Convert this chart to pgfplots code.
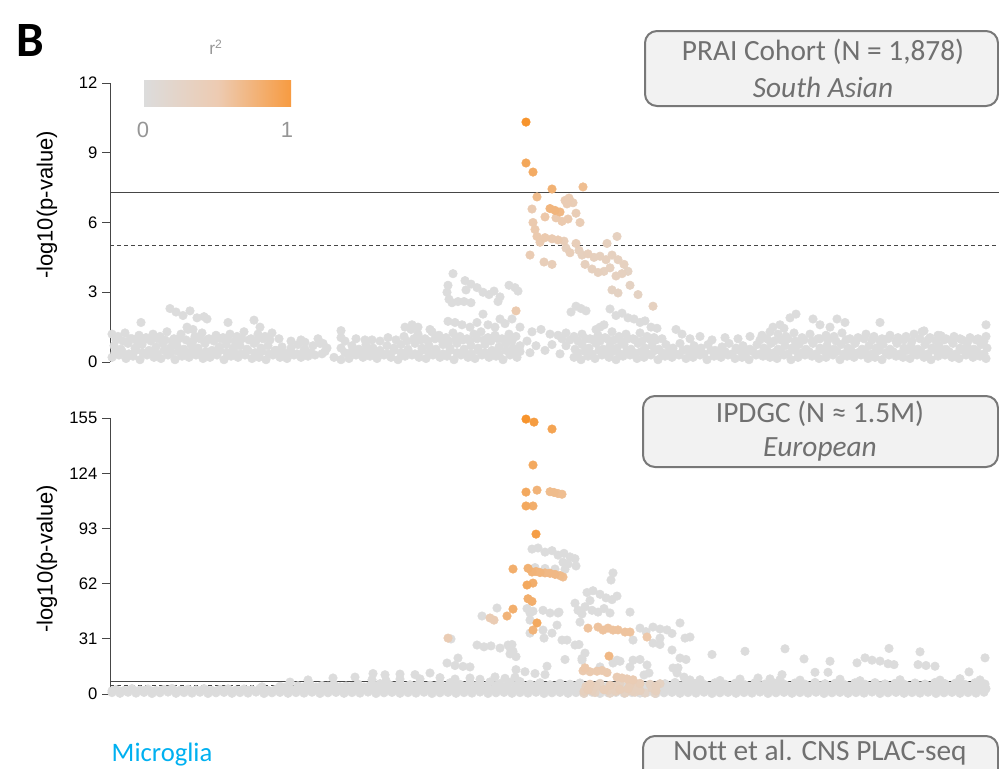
\documentclass[border=0pt]{standalone}
\usepackage{fontspec}
\setmainfont{Liberation Sans}
\newfontfamily\calibri[Ligatures=NoCommon]{Carlito}
\usepackage{pgfplots}
\pgfplotsset{compat=1.18}
\definecolor{ptgray}{RGB}{220,220,220}
\definecolor{barmid}{RGB}{237,203,178}
\definecolor{barend}{RGB}{247,155,65}
\definecolor{boxfill}{RGB}{242,242,242}
\definecolor{boxline}{RGB}{120,120,120}
\definecolor{txtgray}{RGB}{112,112,112}
\definecolor{lblgray}{RGB}{150,150,150}
\definecolor{axgray}{RGB}{70,70,70}
\definecolor{cyanb}{RGB}{0,176,240}
\pgfplotsset{
  myax/.style={
    anchor=south west, scale only axis, width=660pt,
    xmin=110, xmax=990, clip=false,
    axis x line=none, axis y line=left,
    axis line style={-, axgray, line width=0.75pt},
    every outer y axis line/.append style={-},
    tick style={axgray, line width=0.75pt},
    tick align=outside, major tick length=6pt,
    ytick pos=left,
    tick label style={font=\fontsize{12.5}{14}\selectfont, text=black},
    /pgf/number format/assume math mode=true,
    ylabel={-log10(p-value)},
    ylabel style={anchor=center, font=\fontsize{16.5}{19}\selectfont},
    colormap={r2}{rgb255=(220,220,220) rgb255=(237,200,170) rgb255=(247,148,45)},
    point meta min=0, point meta max=1,
  },
  gpts/.style={only marks, mark=*, mark size=3.2pt, color=ptgray},
  cpts/.style={scatter, only marks, mark=*, mark size=3.2pt, scatter src=explicit,
    scatter/use mapped color={draw=mapped color, fill=mapped color}},
}
\begin{document}
\begin{tikzpicture}
\path[use as bounding box] (0pt,0pt) rectangle (749.25pt,-576pt);

% ---------------- top panel ----------------
\begin{axis}[myax, at={(82.5pt,-271.5pt)}, height=209.25pt, ymin=0, ymax=12, ytick={0,3,6,9,12},
  ylabel style={at={(axis description cs:-0.0716,0.563)}}]
\addplot[axgray, line width=0.75pt] coordinates {(110,7.3) (999,7.3)};
\addplot[axgray, line width=0.75pt, dash pattern=on 3pt off 2.25pt] coordinates {(110,5) (999,5)};
\addplot[gpts] coordinates {
(112,0.2)(119,0.3)(126,0.15)(133,0.25)(140,0.1)(147,0.3)(154,0.2)(161,0.15)(168,0.3)(175,0.1)(182,0.25)(189,0.2)(196,0.3)(203,0.15)(210,0.2)(217,0.3)(224,0.1)(231,0.25)(238,0.2)(245,0.3)(252,0.15)(259,0.2)(266,0.1)(273,0.3)(280,0.2)(287,0.15)(294,0.3)(301,0.2)(308,0.25)(315,0.3)(322,0.35)(334,0.2)(341,0.1)(349,0.15)(356,0.3)(363,0.2)(370,0.25)(377,0.15)(384,0.3)(391,0.2)(398,0.1)(405,0.25)(412,0.3)(419,0.2)(426,0.15)(433,0.3)(440,0.2)(447,0.25)(454,0.1)(461,0.3)(468,0.2)(475,0.15)(482,0.3)(489,0.2)(496,0.25)(503,0.1)(510,0.3)(517,0.2)(530,0.4)(545,0.5)(560,0.35)(574,0.2)(581,0.1)(588,0.25)(595,0.15)(602,0.3)(609,0.2)(616,0.1)(623,0.25)(630,0.3)(637,0.15)(644,0.2)(651,0.3)(658,0.1)(665,0.25)(672,0.2)(679,0.3)(686,0.15)(693,0.2)(700,0.3)(707,0.1)(714,0.25)(721,0.2)(728,0.3)(735,0.15)(742,0.2)(749,0.1)(756,0.3)(763,0.25)(770,0.2)(777,0.15)(784,0.3)(791,0.1)(798,0.2)(805,0.3)(812,0.25)(819,0.15)(826,0.2)(833,0.3)(840,0.1)(847,0.25)(854,0.2)(861,0.3)(868,0.15)(875,0.2)(882,0.1)(889,0.3)(896,0.25)(903,0.2)(910,0.15)(917,0.3)(924,0.2)(931,0.1)(938,0.25)(945,0.3)(952,0.2)(959,0.15)(966,0.3)(973,0.2)(980,0.25)(986,0.15)
(115,0.4)(122,0.45)(129,0.35)(136,0.5)(143,0.4)(150,0.45)(157,0.35)(164,0.5)(171,0.4)(178,0.45)(185,0.35)(192,0.5)(199,0.4)(206,0.45)(213,0.35)(220,0.5)(227,0.4)(234,0.45)(241,0.35)(248,0.5)(255,0.4)(262,0.45)(269,0.35)(276,0.5)(283,0.4)(290,0.45)(297,0.35)(304,0.5)(311,0.4)(325,0.45)(345,0.4)(352,0.45)(359,0.35)(366,0.5)(373,0.4)(380,0.45)(387,0.35)(394,0.5)(401,0.4)(408,0.45)(415,0.35)(422,0.5)(429,0.4)(436,0.45)(443,0.35)(450,0.5)(457,0.4)(464,0.45)(471,0.35)(478,0.5)(485,0.4)(492,0.45)(499,0.35)(506,0.5)(513,0.4)(520,0.45)(578,0.4)(585,0.45)(592,0.35)(599,0.5)(606,0.4)(613,0.45)(620,0.35)(627,0.5)(634,0.4)(641,0.45)(648,0.35)(655,0.5)(662,0.4)(669,0.45)(676,0.35)(683,0.5)(690,0.4)(697,0.45)(704,0.35)(711,0.5)(718,0.4)(725,0.45)(732,0.35)(739,0.5)(746,0.4)(753,0.45)(760,0.35)(767,0.5)(774,0.4)(781,0.45)(788,0.35)(795,0.5)(802,0.4)(809,0.45)(816,0.35)(823,0.5)(830,0.4)(837,0.45)(844,0.35)(851,0.5)(858,0.4)(865,0.45)(872,0.35)(879,0.5)(886,0.4)(893,0.45)(900,0.35)(907,0.5)(914,0.4)(921,0.45)(928,0.35)(935,0.5)(942,0.4)(949,0.45)(956,0.35)(963,0.5)(970,0.4)(977,0.45)(984,0.35)
(114,0.7)(121,0.55)(128,0.8)(135,0.6)(142,0.75)(149,0.5)(156,0.65)(163,0.8)(170,0.6)(177,0.7)(184,0.55)(191,0.75)(198,0.6)(205,0.8)(212,0.5)(219,0.65)(226,0.75)(233,0.6)(240,0.7)(247,0.55)(254,0.8)(261,0.6)(268,0.7)(275,0.5)(282,0.65)(291,0.6)(298,0.75)(305,0.55)(313,0.7)(320,0.8)(327,0.6)(341,0.6)(352,0.7)(359,0.55)(366,0.75)(373,0.6)(380,0.5)(387,0.7)(394,0.6)(401,0.75)(408,0.55)(415,0.8)(422,0.6)(429,0.7)(436,0.55)(443,0.75)(450,0.6)(457,0.8)(464,0.55)(471,0.7)(478,0.6)(485,0.75)(492,0.5)(499,0.65)(506,0.8)(513,0.6)(520,0.7)(527,0.9)(536,0.7)(552,0.75)(566,0.7)(575,0.55)(582,0.75)(589,0.6)(596,0.8)(603,0.55)(610,0.7)(617,0.6)(624,0.75)(631,0.55)(638,0.8)(645,0.6)(652,0.7)(659,0.55)(666,0.75)(673,0.6)(680,0.8)(687,0.55)(694,0.7)(701,0.6)(708,0.75)(715,0.5)(722,0.65)(729,0.8)(736,0.6)(743,0.7)(750,0.55)(757,0.75)(764,0.6)(771,0.8)(778,0.55)(785,0.7)(792,0.6)(799,0.75)(806,0.55)(813,0.8)(820,0.6)(827,0.7)(834,0.55)(841,0.75)(848,0.6)(855,0.8)(862,0.55)(869,0.7)(876,0.6)(883,0.75)(890,0.55)(897,0.8)(904,0.6)(911,0.7)(918,0.55)(925,0.75)(932,0.6)(939,0.7)(946,0.55)(953,0.8)(960,0.6)(967,0.7)(974,0.55)(981,0.75)(987,0.6)
(116,0.95)(123,0.9)(130,1.0)(137,0.9)(144,0.95)(151,0.9)(158,1.0)(165,0.95)(172,0.9)(179,1.0)(186,0.95)(193,0.9)(200,1.0)(207,0.95)(214,0.9)(221,1.0)(228,0.95)(235,0.9)(242,1.0)(249,0.95)(256,0.9)(263,1.0)(270,0.95)(345,0.9)(365,0.95)(380,0.9)(396,0.95)(407,0.9)(414,1.0)(421,0.95)(428,0.9)(435,1.0)(442,0.95)(449,0.9)(456,1.0)(463,0.95)(470,0.9)(477,1.0)(484,0.95)(491,0.9)(498,1.0)(505,0.95)(512,0.9)(562,1.0)(570,0.95)(578,0.9)(586,1.0)(593,0.95)(600,0.9)(607,1.0)(614,0.95)(621,0.9)(628,1.0)(635,0.95)(642,0.9)(649,1.0)(656,0.95)(760,0.95)(767,1.0)(774,0.9)(781,0.95)(788,1.0)(795,0.9)(804,0.95)(812,0.9)(820,1.0)(828,0.95)(836,0.9)(846,0.95)(856,0.9)(864,1.0)(872,0.95)(880,0.9)(888,1.0)(896,0.9)(904,0.95)(912,0.9)(920,1.0)(928,0.95)(936,0.9)(944,0.95)(952,0.9)(960,1.0)(968,0.9)(976,0.95)(984,0.9)
(112,1.2)(118,1.1)(125,1.25)(132,1.0)(139,1.15)(146,1.05)(153,1.2)(160,1.1)(167,1.3)(174,1.0)(181,1.2)(188,1.4)(195,1.1)(202,1.25)(209,1.0)(216,1.15)(223,1.05)(230,1.2)(237,1.1)(244,1.3)(251,1.0)(258,1.2)(265,1.1)(272,1.25)(279,1.0)(301,0.95)(318,1.0)(341,1.05)(341,1.35)(356,1.0)(372,0.95)(388,1.05)(404,1.1)(411,1.4)(418,1.2)(425,1.0)(432,1.3)(439,1.15)(446,1.05)(453,1.25)(460,1.1)(467,1.0)(474,1.2)(481,1.3)(488,1.05)(495,1.15)(502,1.0)(509,1.2)(516,1.1)(532,1.3)(541,1.4)(550,1.2)(558,1.15)(566,1.25)(574,1.1)(582,1.2)(590,1.0)(598,1.15)(605,1.05)(612,1.3)(619,1.1)(626,1.2)(633,1.0)(640,1.25)(647,1.1)(654,1.05)(662,1.0)(676,1.4)(682,1.2)(690,1.0)(700,1.1)(712,0.95)(725,1.05)(738,1.0)(750,1.1)(762,1.15)(770,1.3)(778,1.2)(786,1.1)(794,1.25)(802,1.05)(810,1.2)(818,1.0)(826,1.15)(834,1.1)(842,1.25)(850,1.0)(858,1.05)(866,1.2)(874,1.1)(882,1.0)(890,1.15)(898,1.05)(906,1.1)(914,1.2)(922,1.3)(930,1.05)(938,1.15)(946,1.0)(954,1.1)(962,0.95)(970,1.05)(978,1.0)(986,1.1)
(141,1.7)(170,2.3)(176,2.15)(183,2.0)(190,2.2)(197,1.9)(204,1.95)(207,1.85)(187,1.5)(193,1.4)(228,1.7)(254,1.8)(260,1.5)(291,0.9)(305,0.85)(323,0.8)(405,1.5)(412,1.6)(418,1.5)(430,1.4)
(453,3.8)(448,3.3)(447,3.0)(449,2.7)(452,2.55)(465,3.5)(471,3.35)(466,3.1)(477,3.2)(483,3.0)(489,2.9)(494,3.05)(500,2.8)(498,2.6)(509,3.3)(515,3.2)(518,3.05)(458,2.6)(464,2.6)(471,2.55)(483,2.06)(500,1.85)(512,1.85)(448,1.75)(455,1.7)(462,1.6)(470,1.5)(477,1.7)(488,1.6)(495,1.5)(505,1.65)(520,1.5)
(576,2.4)(586,2.2)(571,2.15)(581,2.3)(604,1.6)(610,2.28)(616,2.0)(622,2.1)(628,1.9)(634,1.85)(640,1.7)(645,1.77)(651,1.5)(657,1.45)(600,1.5)(596,1.4)
(796,2.06)(790,1.9)(780,1.6)(773,1.5)(784,1.45)(813,1.85)(820,1.6)(837,1.85)(845,1.7)(830,1.5)(880,1.7)(924,1.34)(941,1.13)(986,1.6)
};
\addplot[cpts] coordinates {
(612,3.1)[0.25](618,2.97)[0.25](630,3.3)[0.25](638,2.9)[0.25](628,3.9)[0.25]
(653,2.4)[0.28](612,4.6)[0.28](618,4.4)[0.28](624,4.2)[0.28](604,3.9)[0.28](610,4.05)[0.28](616,3.7)[0.28](622,3.8)[0.28](617,5.4)[0.28]
(566,4.9)[0.3](579,4.8)[0.3](582,4.6)[0.3](594,4.5)[0.3](600,4.55)[0.3](606,4.4)[0.3](585,4.2)[0.3](592,4.0)[0.3](598,3.85)[0.3](607,5.1)[0.3]
(588,4.65)[0.32]
(564,5.2)[0.35](570,4.7)[0.35](576,5.1)[0.35](544,4.3)[0.35](552,4.2)[0.35]
(573,6.85)[0.38](576,6.4)[0.38](580,6.0)[0.38]
(565,6.95)[0.4](569,7.05)[0.4](567,6.8)[0.4](530,4.6)[0.4]
(532,6.58)[0.42](540,5.15)[0.42](552,5.3)[0.42](558,5.25)[0.42]
(556,6.2)[0.45](562,6.05)[0.45](568,6.15)[0.45](533,6.0)[0.45](535,5.7)[0.45](537,5.4)[0.45](545,5.35)[0.45](516,2.2)[0.45]
(545,6.24)[0.5](583,7.53)[0.6](537,7.1)[0.62](560,6.45)[0.65](550,6.6)[0.68](555,6.52)[0.68]
(552,7.44)[0.72](533,8.17)[0.78](526,8.56)[0.82](526,10.32)[1.0]
};
\end{axis}

% ---------------- bottom panel ----------------
\begin{axis}[myax, at={(82.5pt,-520.5pt)}, height=207pt, ymin=0, ymax=155, ytick={0,31,62,93,124,155},
  ylabel style={at={(axis description cs:-0.0716,0.49)}}]
\addplot[axgray, line width=0.75pt] coordinates {(110,7.3) (987,7.3)};
\addplot[axgray, line width=0.75pt, dash pattern=on 3pt off 2.25pt] coordinates {(110,5) (987,5)};
\addplot[gpts] coordinates {
(112,0.8)(120,0.4)(128,1.0)(136,0.5)(144,0.9)(152,0.3)(160,0.7)(168,1.1)(176,0.4)(184,0.8)(192,0.5)(200,1.0)(208,0.3)(216,0.7)(224,0.9)(232,0.4)(240,0.8)(248,0.5)(256,1.1)(264,0.3)(272,0.7)(280,0.9)(288,0.4)(296,0.8)(304,0.5)(312,1.0)(320,0.3)(328,0.7)(336,0.9)(344,0.4)(352,0.8)(360,0.5)(368,1.1)(376,0.3)(384,0.7)(392,0.9)(400,0.4)(408,0.8)(416,0.5)(424,1.0)(432,0.3)(440,0.7)(448,0.9)(456,0.4)(464,0.8)(472,0.5)(480,1.1)(488,0.3)(496,0.7)(504,0.9)(512,0.4)(520,0.8)(528,0.5)(536,1.0)(544,0.3)(552,0.7)(560,0.9)(568,0.4)(576,0.8)(584,0.5)(592,1.0)(600,0.3)(608,0.7)(616,0.9)(624,0.4)(632,0.8)(640,0.5)(648,1.1)(656,0.3)(664,0.7)(672,0.9)(680,0.4)(688,0.8)(696,0.5)(704,1.0)(712,0.3)(720,0.7)(728,0.9)(736,0.4)(744,0.8)(752,0.5)(760,1.1)(768,0.3)(776,0.7)(784,0.9)(792,0.4)(800,0.8)(808,0.5)(816,1.0)(824,0.3)(832,0.7)(840,0.9)(848,0.4)(856,0.8)(864,0.5)(872,1.1)(880,0.3)(888,0.7)(896,0.9)(904,0.4)(912,0.8)(920,0.5)(928,1.0)(936,0.3)(944,0.7)(952,0.9)(960,0.4)(968,0.8)(976,0.5)(984,1.0)
(112,1.8)(120,1.5)(128,2.0)(136,1.6)(144,1.9)(152,1.5)(160,1.8)(168,2.0)(176,1.6)(184,1.9)(192,1.5)(200,1.8)(208,2.0)(216,1.6)(224,1.9)(232,1.5)(240,1.8)(248,2.0)(256,1.6)(264,1.9)(272,1.5)(280,1.8)(288,2.0)(296,1.6)(304,1.9)(312,1.5)(320,1.8)(328,2.0)(336,1.6)(344,1.9)(352,1.5)(360,1.8)(368,2.0)(376,1.6)(384,1.9)(392,1.5)(400,1.8)(408,2.0)(416,1.6)(424,1.9)(432,1.5)(440,1.8)(448,2.0)(456,1.6)(464,1.9)(472,1.5)(480,1.8)(488,2.0)(496,1.6)(504,1.9)(512,1.5)(520,1.8)(528,2.0)(536,1.6)(544,1.9)(552,1.5)(560,1.8)(568,2.0)(576,1.6)(600,1.6)(624,1.8)(648,1.5)(664,1.8)(672,2.0)(680,1.6)(688,1.9)(696,1.5)(704,1.8)(712,2.0)(720,1.6)(728,1.9)(736,1.5)(744,1.8)(752,2.0)(760,1.6)(768,1.9)(776,1.5)(784,1.8)(792,2.0)(800,1.6)(808,1.9)(816,1.5)(824,1.8)(832,2.0)(840,1.6)(848,1.9)(856,1.5)(864,1.8)(872,2.0)(880,1.6)(888,1.9)(896,1.5)(904,1.8)(912,2.0)(920,1.6)(928,1.9)(936,1.5)(944,1.8)(952,2.0)(960,1.6)(968,1.9)(976,1.5)(984,1.8)
(116,2.5)(124,2.0)(132,3.0)(140,2.2)(148,2.8)(156,2.0)(164,2.6)(172,3.1)(180,2.1)(188,2.7)(196,2.3)(204,3.0)(212,2.0)(220,2.6)(228,2.9)(236,2.2)(244,2.8)(252,2.4)(260,3.2)(268,2.1)(276,2.7)(284,3.0)(292,2.4)(300,3.0)(308,2.5)(316,3.3)(324,2.2)(332,2.9)(340,3.2)(348,2.5)(356,3.0)(364,2.6)(372,3.4)(380,2.3)(388,2.9)(396,3.2)(404,2.5)(412,3.0)(420,2.6)(428,3.3)(436,2.3)(444,2.9)(452,3.2)(460,2.5)(468,3.0)(476,2.6)(484,3.4)(492,2.3)(500,2.9)(508,3.2)(516,2.5)(524,3.0)(532,2.6)(540,3.3)(548,2.3)(556,2.9)(564,3.2)(572,2.5)(580,3.0)(612,3.2)(644,2.9)(660,2.6)(668,3.3)(676,2.3)(684,2.9)(692,3.2)(700,2.5)(708,3.0)(716,2.6)(724,3.3)(732,2.3)(740,2.9)(748,3.2)(756,2.5)(764,3.0)(772,2.6)(780,3.4)(788,2.3)(796,2.9)(804,3.2)(812,2.5)(820,3.0)(828,2.6)(836,3.3)(844,2.3)(852,2.9)(860,3.2)(868,2.5)(876,3.0)(884,2.6)(892,3.3)(900,2.3)(908,2.9)(916,3.2)(924,2.5)(932,3.0)(940,2.6)(948,3.3)(956,2.3)(964,2.9)(972,3.2)(980,2.5)(986,3.0)
(285,3.8)(305,4.2)(316,3.9)(328,4.4)(340,4.0)(352,4.3)(364,3.9)(376,4.5)(386,4.1)(396,4.4)(406,4.0)(416,4.6)(426,4.2)(436,4.5)(446,4.1)(456,4.7)(466,4.3)(476,4.6)(486,4.2)(496,4.8)(506,4.3)(516,4.6)(526,4.2)(536,4.7)(546,4.3)(556,4.5)(566,4.1)(576,4.6)(606,4.0)(626,4.1)(646,4.2)(670,4.2)(680,4.5)(690,4.1)(700,4.6)(710,4.2)(720,4.4)(730,4.0)(740,4.5)(750,4.1)(760,4.6)(770,4.2)(780,4.5)(790,4.0)(800,4.4)(810,4.2)(820,4.6)(830,4.1)(840,4.5)(850,4.2)(860,4.4)(870,4.0)(880,4.6)(890,4.2)(900,4.5)(910,4.1)(920,4.4)(930,4.2)(940,4.6)(950,4.1)(960,4.5)(970,4.2)(980,4.4)
(262,4.0)(280,4.3)(298,4.6)(310,5.5)(322,4.8)(334,5.2)(346,4.5)(358,5.6)(370,4.7)(380,5.8)(390,5.0)(400,6.0)(410,5.2)(420,6.2)(430,5.0)(440,5.8)(450,6.3)(460,5.4)(470,6.5)(480,5.6)(490,6.8)(500,5.8)(510,6.5)(520,7.0)(530,5.5)(540,6.3)(550,5.2)(560,6.0)(570,5.5)(580,6.2)(665,5.8)(675,6.5)(685,5.4)(695,6.0)(705,5.2)(715,6.3)(725,5.5)(735,6.0)(745,5.2)(755,6.4)(765,5.6)(775,6.0)(785,5.3)(795,6.2)(805,5.5)(815,6.5)(825,5.8)(835,6.0)(845,5.2)(855,6.3)(865,5.5)(875,6.4)(885,5.7)(895,6.0)(905,5.3)(915,6.2)(925,5.6)(935,6.5)(945,5.8)(955,6.0)(965,5.4)(975,6.3)(985,5.6)
(290,6.7)(308,7.9)(333,9)(355,9.5)(372,8)(386,7.5)(400,8.4)(420,8.5)(440,9.2)(455,8.4)(470,9.0)(480,8.3)(495,9.6)(505,8.8)(515,9.4)(700,8.0)(720,7.6)(740,8.4)(800,7.8)(840,8.3)(860,7.5)(900,8.0)(940,7.8)(960,8.6)(980,7.9)
(373,11.5)(385,10.8)(400,11.2)(415,10.9)(430,11.8)(447,17.4)(455,16)(463,15.5)(470,15.2)(458,20.2)(477,27.5)(484,26.5)(491,27)(500,25.8)(451,30.9)(512,27.8)(513,24)(516,21)(510,26)(510,22.5)(516,13.7)(525,12.5)(535,11.5)(545,10.9)(547,15.6)(565,19.4)(579,27.8)(585,23)(582,20)(620,18.4)(640,19.4)(649,11.8)(660,27.8)(678,14.7)(686,19.4)(712,22.2)(745,24)(785,25.4)(804,19.7)(830,18.4)(857,17.5)(865,20.3)(872,19)(880,18.5)(888,17)(894,16.5)(889,25.6)(920,23.7)(918,16.5)(926,16)(935,15.6)(969,12.4)(985,20.3)(782,10.9)(758,9)(770,8.5)(780,8.1)(815,12.2)(828,12.2)
(532,81.4)(538,82)(545,79.7)(552,80.5)(558,78)(564,79)(570,77)(575,76)(563,74)(576,71.9)(568,73)(535,71)(545,70.5)(555,70.2)(565,70)
(613,68)(611,64)(587,57)(593,58)(600,56)(606,54)(612,53)(617,55)(590,52.5)(575,51)(578,47)(582,45)(585,49)(592,47)(598,46)(604,48)(610,45.5)(630,46)(580,40.4)(557,38.7)(559,46)(543,47)(550,45.5)(558,45.5)(527,48)(530,45.5)(533,46.5)(530,41.5)(530,34.2)(543,35.9)(552,34.2)(544,31.4)(562,30.3)(567,30.3)(575,27.5)(582,19)(617,19)(633,19)(647,16.3)(653,28.6)(672,24.7)(680,20.2)(673,14.6)(677,11.8)(684,9.5)(690,7.9)(644,10.7)(630,15.2)(613,17.4)(600,15.2)(640,37)(653,37.6)(667,36)(680,39.9)(685,31.4)(690,32)(660,31.4)(633,30.3)(672,34)(660,36.5)(646,35)(482,43.8)(497,48.3)(508,27.5)(512,24)
};
\addplot[cpts] coordinates {
(584,0.3)[0.2](610,0.4)[0.2](645,0.5)[0.2](655,0.3)[0.2]
(595,0.8)[0.25](625,0.5)[0.25](635,1.0)[0.25](596,3.0)[0.25](636,2.2)[0.25](652,3.2)[0.25](600,6.0)[0.25](620,6.2)[0.25](650,5.5)[0.25](660,5.8)[0.25]
(584,1.5)[0.3](592,1.8)[0.3](608,2.0)[0.3](616,1.5)[0.3](632,1.6)[0.3](640,1.9)[0.3](656,1.8)[0.3](586,4.2)[0.3](596,4.5)[0.3](616,4.4)[0.3](636,4.6)[0.3](656,4.5)[0.3]
(588,2.5)[0.35](604,2.4)[0.35](620,2.6)[0.35](628,3.0)[0.35](590,5.5)[0.35](610,5.0)[0.35](630,5.4)[0.35](640,6.0)[0.35]
(490,42.7)[0.4](494,41.5)[0.4](448,31.4)[0.4](617,9.5)[0.4](622,9.0)[0.4](627,8.5)[0.4](633,8.0)[0.4]
(583,13)[0.45](590,12.5)[0.45](597,12.8)[0.45](602,13.2)[0.45](607,12.0)[0.45]
(585,14.7)[0.5](647,32)[0.5]
(588,37)[0.55](598,37.6)[0.55](603,35.9)[0.55](608,37)[0.55](613,35.9)[0.55](618,36)[0.55](625,34.8)[0.55](630,34.8)[0.55]
(558,112.6)[0.6](562,112.2)[0.6](563,65.7)[0.6](550,113.6)[0.62](554,113.2)[0.62](560,66.5)[0.62]
(609,21.3)[0.65](545,68.0)[0.65](550,67.8)[0.65](555,67.2)[0.65](536,68.8)[0.68](540,68.2)[0.68]
(537,114.5)[0.7](532,68.5)[0.7](507,43.8)[0.7](533,35.9)[0.7](528,70.6)[0.72]
(533,105.6)[0.75](513,70.2)[0.75](533,62.3)[0.75](528,53.5)[0.75](532,52)[0.75](513,47.7)[0.75]
(533,128.6)[0.8](526,113.4)[0.8](526,105.6)[0.8](527,61.2)[0.8](537,39.9)[0.8]
(552,148.8)[0.85](536,89.8)[0.9](534,152.7)[0.92](526,154.4)[1.0]
};
\end{axis}

% ---------------- annotations (pixel coordinates) ----------------
\begin{scope}[x=0.75pt,y=-0.75pt]
\node[font=\calibri\bfseries\fontsize{37}{40}\selectfont, anchor=center] at (30,41) {B};
\node[text=lblgray, font=\fontsize{13}{15}\selectfont] at (216,47) {r\textsuperscript{2}};
\shade[left color=ptgray, right color=barend, middle color=barmid] (144,80) rectangle (291,106);
\node[text=lblgray, font=\fontsize{16.5}{18}\selectfont] at (143,130) {0};
\node[text=lblgray, font=\fontsize{16.5}{18}\selectfont] at (287,130) {1};

\draw[draw=boxline, line width=1.5pt, fill=boxfill, rounded corners=9pt] (645,31) rectangle (998,106);
\node[text=txtgray, font=\calibri\fontsize{22}{24}\selectfont] at (823,52) {PRAI Cohort (N = 1,878)};
\node[text=txtgray, font=\calibri\itshape\fontsize{22}{24}\selectfont] at (823,87) {South Asian};

\draw[draw=boxline, line width=1.5pt, fill=boxfill, rounded corners=9pt] (643,396) rectangle (998,467);
\node[text=txtgray, font=\calibri\fontsize{22}{24}\selectfont] at (820,414) {IPDGC (N ≈ 1.5M)};
\node[text=txtgray, font=\calibri\itshape\fontsize{22}{24}\selectfont] at (820,449) {European};

\draw[draw=boxline, line width=1.5pt, fill=boxfill, rounded corners=9pt] (643,736) rectangle (998,800);
\node[text=txtgray, font=\calibri\fontsize{22}{24}\selectfont] at (820,753) {Nott et al. CNS PLAC-seq};

\node[text=cyanb, font=\calibri\fontsize{20}{24}\selectfont, anchor=west] at (107,755) {Microglia};
\end{scope}
\end{tikzpicture}
\end{document}
